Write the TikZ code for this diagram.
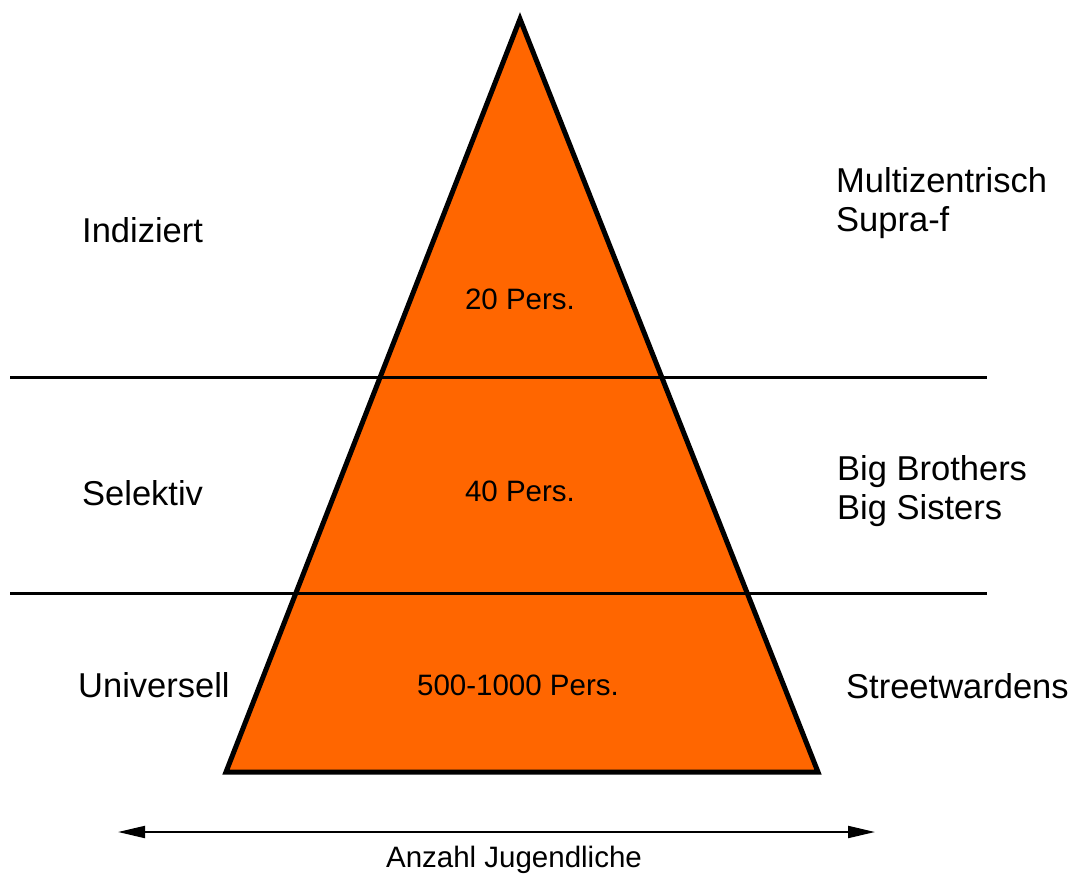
\documentclass[tikz,border=0pt]{standalone}
\usepackage{fontspec}
\setmainfont{Liberation Sans}
\usetikzlibrary{arrows.meta}
\definecolor{pyrorange}{RGB}{255,102,0}

\tikzset{
  side/.style={anchor=west, align=left, inner sep=0pt, font=\fontsize{34.5}{38.5}\selectfont},
  count/.style={inner sep=0pt, font=\fontsize{29.5}{34}\selectfont},
  level/.style={line width=3pt},
}

\begin{document}
\begin{tikzpicture}[x=1pt, y=-1pt]
\useasboundingbox (0,0) rectangle (1074,876);

%% pyramid
\coordinate (top) at (520,19);
\coordinate (bl) at (226,772);
\coordinate (br) at (818,772);
\draw[line width=5pt, fill=pyrorange] (top) -- (br) -- (bl) -- cycle;

%% level lines
\coordinate (l1a) at (10,377);
\coordinate (l1b) at (987,377);
\coordinate (l2a) at (10,593);
\coordinate (l2b) at (987,593);
\draw[level] (l1a) -- (l1b);
\draw[level] (l2a) -- (l2b);

%% counts
\node[count](c1) at (520,299) {20 Pers.};
\node[count](c2) at (520,491) {40 Pers.};
\node[count](c3) at (518,685) {500-1000 Pers.};

%% left labels
\node[side](indiziert) at (82,230) {Indiziert};
\node[side](selektiv) at (82,493) {Selektiv};
\node[side](universell) at (78,685) {Universell};

%% right labels
\node[side](supra) at (836,203) {Multizentrisch\\Supra-f};
\node[side](bigbro) at (837,491) {Big Brothers\\Big Sisters};
\node[side](street) at (846,686) {Streetwardens};

%% axis
\coordinate (axl) at (118,832);
\coordinate (axr) at (875,832);
\draw[line width=2pt, {Triangle[length=27pt, width=12pt]}-{Triangle[length=27pt, width=12pt]}] (axl) -- (axr);
\node[count](axis) at (514,860) {Anzahl Jugendliche};

\end{tikzpicture}
\end{document}
